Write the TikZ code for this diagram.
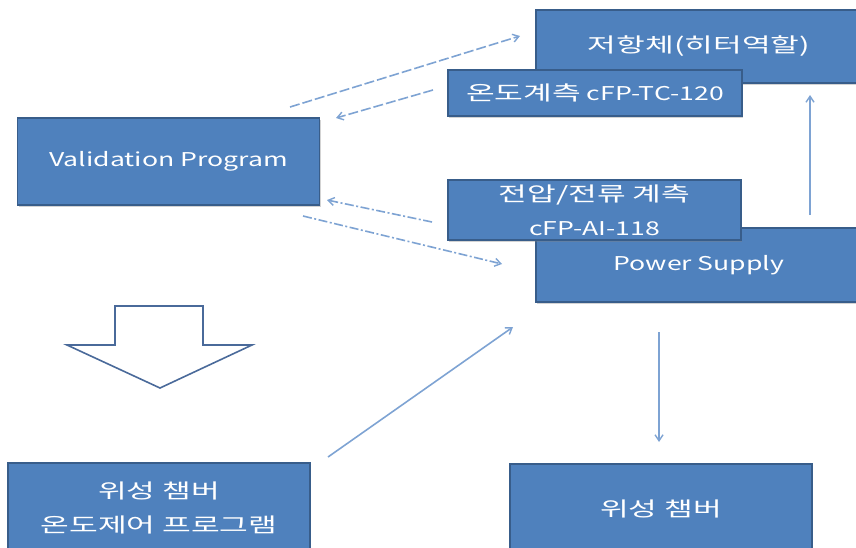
\documentclass[tikz,border=0pt]{standalone}
\usepackage{fontspec}
\setmainfont{Noto Sans CJK KR}[FakeStretch=1.4]
\newfontfamily\kr{Noto Sans CJK KR}[FakeStretch=1.55, Scale=1.06]
\usetikzlibrary{arrows.meta,shadows}
\definecolor{boxfill}{HTML}{4F81BD}
\definecolor{boxline}{HTML}{385D8A}
\definecolor{arrowc}{HTML}{7EA3D3}
\definecolor{hollowline}{HTML}{4A6A9A}
\tikzset{
  blockbox/.style={draw=boxline, fill=boxfill, line width=1.4pt, text=white,
    font=\fontsize{19}{34}\selectfont, align=center, inner sep=0pt,
    drop shadow={shadow xshift=1.2pt, shadow yshift=-1.5pt, opacity=0.35}},
  conn/.style={draw=arrowc, line width=1.6pt, -{Straight Barb[length=6pt,width=8pt,line width=1.4pt]}},
  dashconn/.style={conn, dash pattern=on 10pt off 3pt},
  dotconn/.style={conn, dash pattern=on 9pt off 2.5pt on 2pt off 2.5pt},
  hollow/.style={draw=hollowline, fill=white, line width=1.6pt, line join=miter}
}
\begin{document}
\begin{tikzpicture}[x=1pt,y=-1pt]
\useasboundingbox (0,0) rectangle (856,547);
\clip (0,0) rectangle (856,547);
% boxes
\node[blockbox, minimum width=326pt, minimum height=73pt] (res) at (699,46.5) {{\kr 저항체(히터역할)}};
\node[blockbox, minimum width=294pt, minimum height=46pt] (temp) at (595,93) {{\kr 온도계측} cFP-TC-120};
\node[blockbox, minimum width=302pt, minimum height=87pt] (val) at (168.5,161.5) {Validation Program};
\node[blockbox, minimum width=326pt, minimum height=74pt] (ps) at (699,265) {Power Supply};
\node[blockbox, minimum width=293pt, minimum height=60pt] (volt) at (594.5,210) {{\kr 전압/전류 계측}\\cFP-AI-118};
\node[blockbox, minimum width=302pt, minimum height=89pt] (prog) at (159,507.5) {{\kr 위성 챔버}\\{\kr 온도제어 프로그램}};
\node[blockbox, minimum width=302pt, minimum height=90pt] (ch) at (661,509) {{\kr 위성 챔버}};
% hollow arrow
\draw[hollow] (115,306) -- (203,306) -- (203,345) -- (252,345) -- (160,388) -- (67,345) -- (115,345) -- cycle;
% connector ends
\coordinate (a1s) at (290,107);
\coordinate (a1e) at (520,36);
\coordinate (a2s) at (433,90);
\coordinate (a2e) at (336,118);
\coordinate (a3s) at (432,222);
\coordinate (a3e) at (327,200);
\coordinate (a4s) at (303,216);
\coordinate (a4e) at (502,264);
\coordinate (a5s) at (328,457);
\coordinate (a5e) at (513,327);
\coordinate (a6s) at (659,332);
\coordinate (a6e) at (659,442);
\coordinate (a7s) at (810,215);
\coordinate (a7e) at (810,95);
\draw[dashconn] (a1s) -- (a1e);
\draw[dashconn] (a2s) -- (a2e);
\draw[dotconn] (a3s) -- (a3e);
\draw[dotconn] (a4s) -- (a4e);
\draw[conn] (a5s) -- (a5e);
\draw[conn] (a6s) -- (a6e);
\draw[conn] (a7s) -- (a7e);
\end{tikzpicture}
\end{document}
